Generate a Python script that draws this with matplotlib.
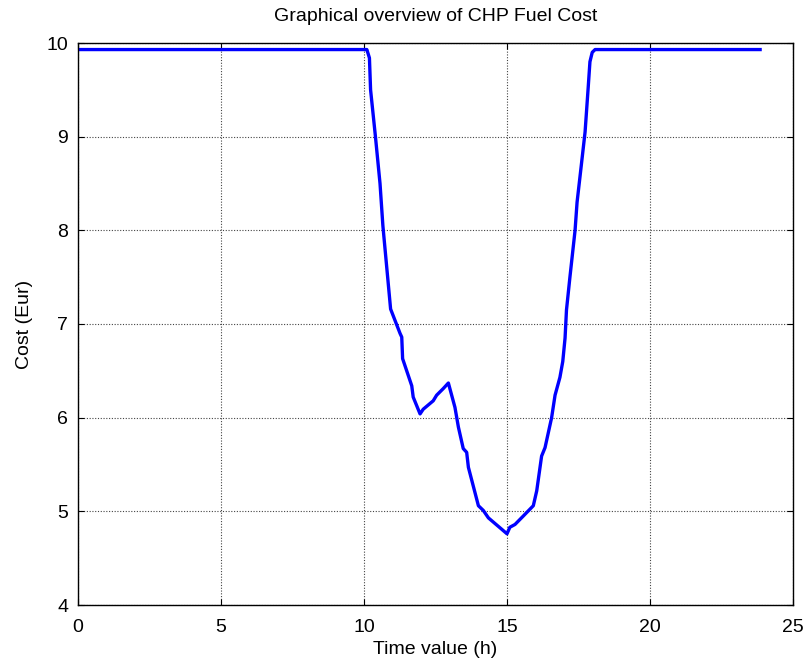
import matplotlib
matplotlib.use("Agg")
import matplotlib.pyplot as plt

# Hourly CHP fuel cost over the day
time_h = [0.0, 10.1, 10.19, 10.23, 10.4, 10.56, 10.66, 10.93,
          11.26, 11.32, 11.35, 11.67, 11.72, 11.96, 12.07, 12.42, 12.54, 12.77,
          12.95, 13.18, 13.30, 13.47, 13.59, 13.65, 14.0, 14.17, 14.35, 14.81,
          15.0, 15.1, 15.28, 15.57, 15.92, 16.04, 16.21, 16.33, 16.56, 16.68,
          16.85, 16.95, 17.03, 17.08, 17.2, 17.38, 17.45, 17.6, 17.73,
          17.84, 17.9, 17.98, 18.08, 23.85]
cost_eur = [9.93, 9.93, 9.84, 9.50, 9.00, 8.50, 8.05, 7.16,
            6.90, 6.86, 6.63, 6.34, 6.22, 6.04, 6.09, 6.18, 6.24, 6.31,
            6.37, 6.11, 5.90, 5.67, 5.63, 5.47, 5.06, 5.01, 4.93, 4.81,
            4.76, 4.83, 4.86, 4.95, 5.06, 5.22, 5.59, 5.68, 6.00, 6.24,
            6.43, 6.60, 6.85, 7.15, 7.50, 8.00, 8.30, 8.70, 9.05,
            9.53, 9.80, 9.90, 9.93, 9.93]

x_ticks = [0, 5, 10, 15, 20, 25]
y_ticks = [4, 5, 6, 7, 8, 9, 10]

plt.rcParams['font.family'] = ['Liberation Sans', 'DejaVu Sans']

fig = plt.figure(figsize=(8.05, 6.65), dpi=100)
ax = fig.add_axes([78 / 805, 1 - 605 / 665, 715 / 805, 562 / 665])

ax.plot(time_h, cost_eur, color='#0000ff', linewidth=2.4)

ax.set_xlim(0, 25)
ax.set_ylim(4, 10)
ax.set_xticks(x_ticks)
ax.set_yticks(y_ticks)
ax.grid(True, color='#444444', linestyle=(0, (1, 1.5)), linewidth=0.8)
ax.tick_params(direction='in', top=True, right=True, length=4, width=0.8,
               labelsize=14)
ax.tick_params(axis='x', pad=10)
ax.tick_params(axis='y', pad=7)
for s in ax.spines.values():
    s.set_linewidth(1.0)

ax.set_title('Graphical overview of CHP Fuel Cost', fontsize=14, pad=16)
ax.set_xlabel('Time value (h)', fontsize=14, labelpad=4)
ax.set_ylabel('Cost (Eur)', fontsize=14, labelpad=10)

fig.savefig('out.png', dpi=100)
